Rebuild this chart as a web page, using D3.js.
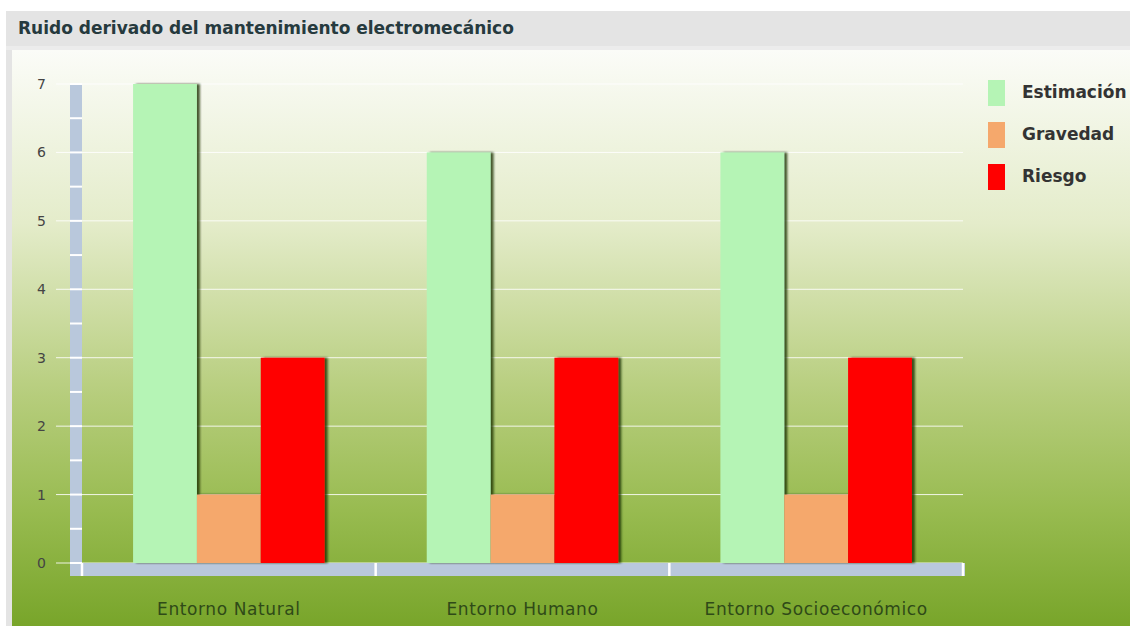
<!DOCTYPE html>
<html><head><meta charset="utf-8">
<script src="https://cdn.jsdelivr.net/npm/d3@7"></script>
<style>body{margin:0;background:#fff;}svg{display:block;font-family:"DejaVu Sans",Verdana,sans-serif;}</style>
</head><body>
<svg id="c" width="1130" height="626"></svg>
<script>
const title = "Ruido derivado del mantenimiento electromecánico";
const categories = ["Entorno Natural", "Entorno Humano", "Entorno Socioeconómico"];
const seriesNames = ["Estimación", "Gravedad", "Riesgo"];
const estimacion = [7, 6, 6];
const gravedad = [1, 1, 1];
const riesgo = [3, 3, 3];
const yTicks = [0, 1, 2, 3, 4, 5, 6, 7];
const colors = ["#b5f4b5", "#f5a86c", "#ff0000"];

const svg = d3.select("#c");
const defs = svg.append("defs");
const bg = defs.append("linearGradient").attr("id","bg").attr("x1",0).attr("y1",0).attr("x2",0).attr("y2",1);
[[0,"#fbfcf8"],[0.3,"#e4ecca"],[0.6,"#b6cd7c"],[0.8,"#98bb50"],[1,"#78a52a"]].forEach(s=>bg.append("stop").attr("offset",s[0]).attr("stop-color",s[1]));
const f = defs.append("filter").attr("id","sh").attr("x","-20%").attr("y","-5%").attr("width","150%").attr("height","110%");
f.append("feDropShadow").attr("dx",3).attr("dy",0).attr("stdDeviation",1.2).attr("flood-color","#1a3000").attr("flood-opacity",0.8);

// panel
svg.append("rect").attr("x",6).attr("y",11).attr("width",1124).attr("height",615).attr("fill","#e4e4e4");
svg.append("rect").attr("x",6).attr("y",46).attr("width",1124).attr("height",4).attr("fill","#ececec");
svg.append("rect").attr("x",12).attr("y",50).attr("width",1118).attr("height",576).attr("fill","url(#bg)");
svg.append("text").attr("x",18).attr("y",34).attr("font-size",17).attr("font-weight","bold").attr("fill","#263a3e").text(title);

const x0 = d3.scaleBand().domain(categories).range([82, 963]).paddingInner(0).paddingOuter(0);
const y = d3.scaleLinear().domain([0, 7]).range([563, 84]);
const x1 = d3.scaleBand().domain(seriesNames).range([0, x0.bandwidth()]).paddingInner(0).paddingOuter(0.8);

// grid lines
svg.append("g").selectAll("line").data(yTicks).join("line")
  .attr("x1",56).attr("x2",963).attr("y1",d=>y(d)).attr("y2",d=>y(d))
  .attr("stroke","#ffffff").attr("stroke-opacity",0.85).attr("stroke-width",1);

// axis bars
svg.append("rect").attr("x",70).attr("y",y(7)).attr("width",12).attr("height",576-y(7)).attr("fill","#b9c8dc");
svg.append("rect").attr("x",70).attr("y",563).attr("width",895).attr("height",13).attr("fill","#b9c8dc");
// minor ticks on y axis bar
const halfTicks = d3.range(0, 7.01, 0.5);
svg.append("g").selectAll("line").data(halfTicks).join("line")
  .attr("x1",70).attr("x2",82).attr("y1",d=>y(d)).attr("y2",d=>y(d))
  .attr("stroke","#ffffff").attr("stroke-width",2);
// category boundary ticks on x axis bar
const bounds = categories.map(c=>x0(c)).concat([x0(categories[categories.length-1])+x0.bandwidth()]);
svg.append("g").selectAll("line").data(bounds).join("line")
  .attr("x1",d=>d).attr("x2",d=>d).attr("y1",563).attr("y2",576)
  .attr("stroke","#ffffff").attr("stroke-width",2.5);

// y labels
const yAxis = d3.axisLeft(y).tickValues(yTicks).tickFormat(d3.format("d")).tickSize(0).tickPadding(0);
const gy = svg.append("g").attr("transform","translate(46,0)").call(yAxis);
gy.select(".domain").remove();
gy.selectAll("text").attr("font-size",14).attr("fill","#444").attr("font-family","DejaVu Sans, Verdana, sans-serif");

// x labels
const xAxis = d3.axisBottom(x0).tickSize(0).tickPadding(0);
const gx = svg.append("g").attr("transform","translate(0,603)").call(xAxis);
gx.select(".domain").remove();
gx.selectAll("text").attr("font-size",17).attr("letter-spacing","0.6px").attr("fill","#2f4a18").attr("font-family","DejaVu Sans, Verdana, sans-serif");

// bars
const data = categories.map((c,i)=>({cat:c, vals:[estimacion[i], gravedad[i], riesgo[i]]}));
const gbar = svg.append("g");
data.forEach(d=>{
  d.vals.forEach((v,j)=>{
    gbar.append("rect")
      .attr("x", x0(d.cat)+x1(seriesNames[j]))
      .attr("y", y(v))
      .attr("width", x1.bandwidth())
      .attr("height", y(0)-y(v))
      .attr("fill", colors[j])
      .attr("filter","url(#sh)");
  });
});

// legend
const lg = svg.append("g");
seriesNames.forEach((s,i)=>{
  lg.append("rect").attr("x",988).attr("y",80+i*42).attr("width",17).attr("height",26).attr("fill",colors[i]);
  lg.append("text").attr("x",1022).attr("y",98+i*42).attr("font-size",17).attr("font-weight","bold").attr("fill","#333").text(s);
});
</script>
</body></html>
